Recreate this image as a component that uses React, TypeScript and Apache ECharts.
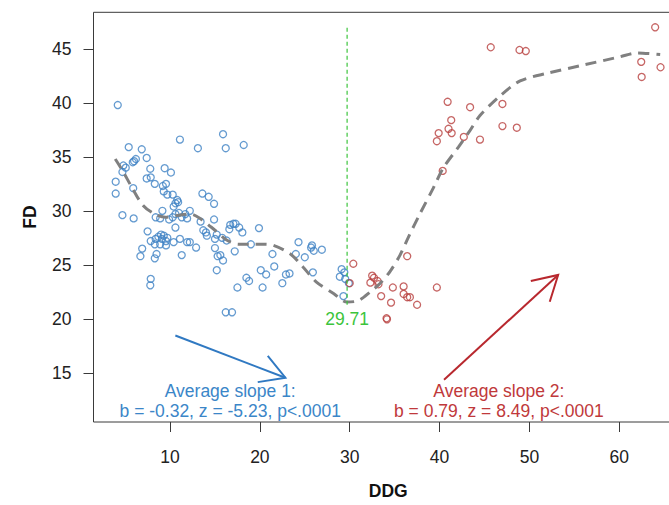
import React, { useEffect, useRef } from "react";
import * as echarts from "echarts";

const FONT = "'Liberation Sans', Arial, Helvetica, sans-serif";

const xTicks = [10, 20, 30, 40, 50, 60];
const yTicks = [15, 20, 25, 30, 35, 40, 45];
const xRange = [1.48, 67.1];
const yRange = [10.44, 48.39];

const bluePoints: [number, number][] = [
  [4.18, 39.8], [11.1, 36.6], [13.1, 35.8], [5.4, 35.9], [6.85, 35.7], [6.0, 34.6], [6.2, 34.8],
  [5.85, 34.5], [7.4, 34.9], [4.8, 34.2], [5.07, 34.0], [4.7, 33.6], [7.8, 33.9], [9.4, 33.95],
  [10.1, 33.55], [3.95, 32.7], [7.4, 33.0], [7.85, 33.1], [8.3, 32.5], [5.9, 32.1], [3.95, 31.6],
  [9.2, 32.3], [9.55, 32.5], [9.3, 31.8], [9.7, 31.5], [10.3, 31.5], [10.8, 31.0], [10.6, 30.7],
  [10.9, 30.8], [13.6, 31.6], [14.3, 31.3], [14.9, 30.65], [10.4, 30.4], [9.15, 30.0], [4.7, 29.6],
  [5.95, 29.3], [8.4, 29.4], [8.9, 29.3], [9.9, 29.2], [10.3, 29.4], [10.6, 29.7], [11.0, 29.8],
  [11.7, 29.7], [12.2, 30.0], [11.9, 29.3], [11.3, 29.4], [13.4, 29.0], [14.9, 29.2], [10.6, 28.45],
  [13.7, 28.2], [14.0, 28.0], [14.1, 27.7], [7.5, 28.1], [9.0, 27.8], [9.3, 27.7], [8.7, 27.6],
  [9.7, 27.5], [7.85, 27.2], [8.4, 27.4], [9.1, 27.4], [9.55, 27.2], [8.3, 26.9], [8.9, 26.9],
  [9.55, 26.8], [10.4, 27.1], [11.1, 27.4], [11.9, 27.1], [12.2, 27.1], [12.9, 26.6], [15.0, 27.4],
  [15.2, 27.8], [15.0, 26.55], [6.9, 26.5], [6.7, 25.8], [8.5, 26.0], [8.3, 25.6], [11.3, 25.9],
  [15.3, 25.8], [15.2, 24.5], [7.85, 23.7], [7.8, 23.1], [15.9, 37.1], [16.2, 35.8], [18.2, 36.1],
  [15.8, 27.5], [16.3, 27.25], [16.7, 28.7], [17.05, 28.8], [17.3, 28.8], [16.6, 28.3], [17.7, 28.45],
  [18.05, 28.0], [19.9, 28.4], [15.6, 25.9], [15.9, 25.4], [17.2, 26.25], [19.0, 26.9], [21.4, 26.0],
  [21.6, 24.85], [20.1, 24.5], [20.7, 24.1], [18.5, 23.8], [18.8, 23.5], [17.5, 22.9], [20.3, 22.9],
  [22.5, 23.3], [22.9, 24.1], [23.3, 24.2], [16.2, 20.6], [16.9, 20.6], [24.3, 27.1], [24.0, 26.0],
  [25.0, 25.7], [25.8, 26.8], [25.7, 26.6], [26.0, 26.3], [26.9, 26.4], [25.9, 24.3], [29.1, 24.6],
  [28.9, 23.9], [29.4, 24.3], [29.5, 23.7], [29.3, 22.1], [29.9, 23.3],
];

const redPoints: [number, number][] = [
  [30.4, 25.1], [30.0, 23.3], [32.5, 24.0], [32.7, 23.8], [32.3, 23.35], [33.1, 23.5], [33.2, 23.2],
  [33.5, 22.1], [34.8, 22.9], [34.6, 21.5], [36.0, 23.0], [36.0, 22.3], [36.4, 22.0], [36.7, 22.0],
  [37.5, 21.3], [36.4, 25.8], [39.7, 22.9], [34.1, 20.05], [34.15, 19.95], [64.0, 47.0], [45.7, 45.15],
  [48.9, 44.9], [49.6, 44.8], [62.45, 43.8], [64.6, 43.3], [62.5, 42.4], [40.9, 40.1], [43.4, 39.6],
  [47.0, 39.9], [41.3, 38.4], [41.0, 37.6], [41.35, 37.2], [39.9, 37.2], [39.7, 36.45], [42.7, 36.85],
  [44.5, 36.6], [47.0, 37.85], [48.6, 37.7], [40.35, 33.7],
];

const loessCurve: [number, number][] = [
  [3.9, 34.8], [4.8, 33.6], [5.8, 32.1], [7.0, 30.5], [8.3, 29.7], [9.5, 29.4], [11.0, 29.6],
  [12.3, 29.7], [13.5, 29.2], [15.0, 28.2], [16.3, 27.3], [17.6, 26.9], [18.9, 26.9], [20.4, 26.9],
  [21.5, 26.8], [23.4, 26.0], [24.8, 24.8], [26.3, 23.4], [28.2, 22.35], [29.7, 21.55], [31.0, 21.7],
  [32.3, 22.5], [33.4, 23.3], [34.5, 24.4], [35.6, 25.9], [36.5, 27.5], [37.8, 29.7], [39.3, 32.1],
  [40.4, 33.95], [42.1, 35.9], [43.4, 37.45], [44.5, 38.83], [46.75, 40.66], [48.97, 42.03],
  [51.95, 42.74], [56.0, 43.5], [60.1, 44.27], [62.0, 44.63], [64.56, 44.48],
];

const breakpoint = 29.71;
const breakLine: [number, number][] = [[29.71, 46.95], [29.71, 21.3]];
const breakLabel: [number, number] = [29.71, 19.94];

const blueArrow = [10.59, 18.45, 22.84, 14.54];
const redArrow = [40.5, 14.35, 53.2, 24.06];

const blueNoteText = ["Average slope 1:", "b = -0.32, z = -5.23, p<.0001"];
const blueNotePos: [number, number][] = [[16.7, 13.35], [16.7, 11.45]];
const redNoteText = ["Average slope 2:", "b = 0.79, z = 8.49, p<.0001"];
const redNotePos: [number, number][] = [[46.6, 13.35], [46.6, 11.45]];

const BLUE = "#3f82c4";
const RED = "#b8403f";
const BLUE_TEXT = "#3b86c8";
const RED_TEXT = "#c0393b";
const GREEN = "#3cc43c";
const AXIS = "#3a3a3a";

function arrowSeries(d: number[], color: string) {
  return {
    type: "custom",
    coordinateSystem: "cartesian2d",
    silent: true,
    z: 4,
    data: [d],
    encode: { x: [0, 2], y: [1, 3] },
    renderItem: (_p: any, api: any) => {
      const p0 = api.coord([api.value(0), api.value(1)]);
      const p1 = api.coord([api.value(2), api.value(3)]);
      const ang = Math.atan2(p1[1] - p0[1], p1[0] - p0[0]);
      const L = 28;
      const a = Math.PI / 6;
      const w1 = [p1[0] - L * Math.cos(ang - a), p1[1] - L * Math.sin(ang - a)];
      const w2 = [p1[0] - L * Math.cos(ang + a), p1[1] - L * Math.sin(ang + a)];
      return {
        type: "group",
        children: [
          { type: "line", shape: { x1: p0[0], y1: p0[1], x2: p1[0], y2: p1[1] }, style: { stroke: color, lineWidth: 2 } },
          { type: "polyline", shape: { points: [w1, p1, w2] }, style: { stroke: color, lineWidth: 2, fill: null } },
        ],
      };
    },
  };
}

function textSeries(pos: [number, number][], texts: string[], color: string) {
  return {
    type: "custom",
    coordinateSystem: "cartesian2d",
    silent: true,
    z: 5,
    data: pos.map((p, i) => [p[0], p[1], i]),
    renderItem: (params: any, api: any) => {
      const p = api.coord([api.value(0), api.value(1)]);
      return {
        type: "text",
        x: p[0],
        y: p[1],
        style: {
          text: texts[params.dataIndex],
          fill: color,
          font: `17.5px ${FONT}`,
          align: "center",
          verticalAlign: "middle",
          textAlign: "center",
          textVerticalAlign: "middle",
        },
      };
    },
  };
}

export default function App() {
  const ref = useRef<HTMLDivElement>(null);
  useEffect(() => {
    if (!ref.current) return;
    const chart = echarts.init(ref.current, undefined, { renderer: "svg" });
    const labelStyle = { fontSize: 17.5, color: "#222", fontFamily: FONT };
    const nameStyle = { fontSize: 17.5, fontWeight: "bold", color: "#111", fontFamily: FONT };
    chart.setOption({
      animation: false,
      backgroundColor: "#fff",
      grid: {
        show: true,
        left: 93.5,
        top: 12.3,
        width: 589.5,
        height: 414.4,
        borderColor: AXIS,
        borderWidth: 1,
        backgroundColor: "transparent",
      },
      xAxis: {
        type: "value",
        min: xRange[0],
        max: xRange[1],
        axisLine: { show: false },
        splitLine: { show: false },
        axisTick: { show: true, length: 10, lineStyle: { color: AXIS }, customValues: xTicks },
        axisLabel: { ...labelStyle, margin: 26, customValues: xTicks },
        name: "DDG",
        nameLocation: "middle",
        nameGap: 60,
        nameTextStyle: nameStyle,
      },
      yAxis: {
        type: "value",
        min: yRange[0],
        max: yRange[1],
        axisLine: { show: false },
        splitLine: { show: false },
        axisTick: { show: true, length: 10, lineStyle: { color: AXIS }, customValues: yTicks },
        axisLabel: { ...labelStyle, margin: 22, customValues: yTicks },
        name: "FD",
        nameLocation: "middle",
        nameGap: 55,
        nameRotate: 90,
        nameTextStyle: nameStyle,
      },
      series: [
        {
          type: "scatter",
          data: bluePoints,
          symbol: "circle",
          symbolSize: 7,
          itemStyle: { color: "transparent", borderColor: BLUE, borderWidth: 1.3 },
          z: 2,
          silent: true,
        },
        {
          type: "scatter",
          data: redPoints,
          symbol: "circle",
          symbolSize: 7,
          itemStyle: { color: "transparent", borderColor: RED, borderWidth: 1.3 },
          z: 2,
          silent: true,
        },
        {
          type: "line",
          data: loessCurve,
          showSymbol: false,
          symbol: "none",
          smooth: 0.3,
          lineStyle: { color: "#808080", width: 3, type: [11, 7] },
          z: 3,
          silent: true,
        },
        {
          type: "line",
          data: breakLine,
          symbol: "none",
          lineStyle: { color: GREEN, width: 1.2, type: [4, 3] },
          z: 3,
          silent: true,
        },
        textSeries([breakLabel], [breakpoint.toFixed(2)], GREEN),
        arrowSeries(blueArrow, "#3079c2"),
        arrowSeries(redArrow, "#b8282e"),
        textSeries(blueNotePos, blueNoteText, BLUE_TEXT),
        textSeries(redNotePos, redNoteText, RED_TEXT),
      ],
    });
    return () => chart.dispose();
  }, []);
  return (
    <div style={{ position: "fixed", left: 0, top: 0, width: 669, height: 505, overflow: "hidden", background: "#fff" }}>
      <div ref={ref} style={{ width: 700, height: 505 }} />
    </div>
  );
}
